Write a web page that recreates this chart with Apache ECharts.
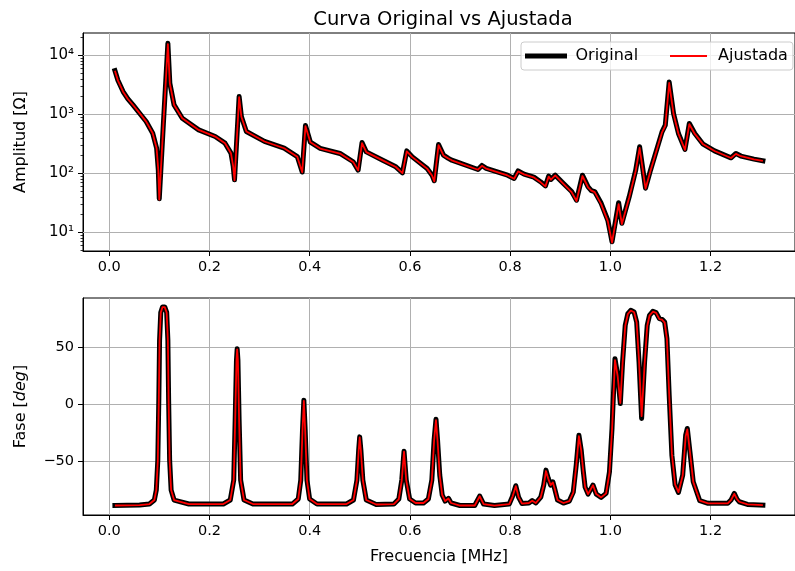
<!DOCTYPE html>
<html>
<head>
<meta charset="utf-8">
<script src="https://cdn.jsdelivr.net/npm/echarts@6/dist/echarts.min.js"></script>
<style>html,body{margin:0;padding:0;background:#fff}#c{width:795px;height:571px}</style>
</head>
<body>
<div id="c"></div>
<script>
// Frequency samples (MHz) for the amplitude curve
const freqAmp = [0.0112,0.0171,0.0275,0.0370,0.0472,0.0604,0.0736,0.0866,0.0944,0.0978,0.0997,0.1082,0.1169,0.1208,0.1293,0.1456,0.1784,0.2113,0.2310,0.2428,0.2473,0.2499,0.2591,0.2636,0.2735,0.3097,0.3490,0.3752,0.3850,0.3915,0.4013,0.4210,0.4604,0.4867,0.4966,0.5044,0.5129,0.5457,0.5719,0.5851,0.5936,0.6048,0.6343,0.6441,0.6486,0.6571,0.6669,0.6768,0.6835,0.7358,0.7437,0.7523,0.7948,0.8080,0.8159,0.8277,0.8473,0.8605,0.8704,0.8769,0.8814,0.8900,0.9064,0.9227,0.9325,0.9443,0.9555,0.9620,0.9687,0.9817,0.9949,1.0033,1.0165,1.0230,1.0376,1.0506,1.0584,1.0702,1.0801,1.1031,1.1096,1.1174,1.1261,1.1359,1.1489,1.1576,1.1686,1.1851,1.2080,1.2408,1.2506,1.2605,1.2866,1.3044];
// Amplitude (Ohm)
const ampOriginal = [5510,3780,2430,1830,1443,1045,755,479,267,113,37,764,15960,3360,1443,859,545,421,324,220,131,77.6,2000,918,512,347,267,192,105,646,337,264,217,157,113,333,231,167,129,102,240,190,121,93,74.7,308,203,179,167,116,136,121,93,82,110,97,86,72,61,90,79,93,67,49,35,93,59,51,49,31,16,6.9,31.7,14.2,40,113,281,56,113,504,654,3530,1032,473,254,699,473,312,240,183,217,196,174,163];
const ampAjustada = [5480,3760,2420,1820,1440,1045,752,478,266,112,36,760,15500,3330,1440,857,544,420,323,219,130,76,1950,910,510,346,266,191,104,630,335,263,216,156,112,325,229,166,128,101,235,188,120,92,73,300,201,178,166,115,134,120,92,81,108,96,85,71,60,88,78,92,66,48,34,90,58,51,48,30,15.5,6.7,30,13.8,39,110,270,55,110,495,640,3400,1010,468,250,680,465,310,239,182,214,195,173,162];

// Frequency samples (MHz) for the phase curve
const freqPhase = [0.0112,0.0604,0.0801,0.0899,0.0938,0.0968,0.0988,0.1003,0.1027,0.1062,0.1106,0.1145,0.1169,0.1184,0.1204,0.1234,0.1293,0.1588,0.2276,0.2414,0.2483,0.2512,0.2538,0.2552,0.2567,0.2591,0.2621,0.2689,0.2866,0.3653,0.3771,0.3821,0.3856,0.3883,0.3909,0.3945,0.3998,0.4145,0.4735,0.4873,0.4942,0.4977,0.4997,0.5021,0.5060,0.5129,0.5326,0.5680,0.5778,0.5837,0.5882,0.5926,0.5994,0.6113,0.6270,0.6368,0.6437,0.6482,0.6520,0.6551,0.6595,0.6644,0.6703,0.6768,0.6821,0.6998,0.7293,0.7392,0.7470,0.7687,0.7982,0.8050,0.8113,0.8168,0.8237,0.8375,0.8440,0.8513,0.8611,0.8670,0.8715,0.8759,0.8808,0.8853,0.8896,0.8946,0.9064,0.9181,0.9260,0.9319,0.9372,0.9418,0.9457,0.9496,0.9555,0.9654,0.9719,0.9817,0.9915,0.9982,1.0033,1.0092,1.0146,1.0199,1.0244,1.0297,1.0349,1.0407,1.0474,1.0525,1.0572,1.0624,1.0683,1.0736,1.0781,1.0848,1.0913,1.0978,1.1031,1.1084,1.1129,1.1174,1.1228,1.1293,1.1359,1.1444,1.1503,1.1536,1.1588,1.1654,1.1784,1.1950,1.2343,1.2408,1.2473,1.2526,1.2571,1.2737,1.3044];
// Phase (deg)
const phaseOriginal = [-88.7,-88.3,-87.4,-83.9,-75.2,-49.0,3.5,55.9,80.4,85.2,85.2,80.4,55.9,3.5,-49.0,-75.2,-83.9,-87.4,-87.4,-83.9,-66.4,-14.0,38.5,48.5,38.5,-14.0,-66.4,-83.9,-87.4,-87.4,-83.0,-66.4,-22.7,3.5,-22.7,-66.4,-83.0,-87.4,-87.4,-83.9,-66.4,-40.2,-28.6,-40.2,-66.4,-83.9,-87.8,-87.4,-83.0,-66.4,-41.1,-66.4,-83.0,-86.5,-86.5,-83.0,-66.4,-31.5,-13.1,-31.5,-62.1,-79.5,-84.8,-82.4,-86.5,-88.7,-88.7,-80.4,-87.4,-88.7,-87.4,-80.4,-71.4,-81.3,-87.0,-86.5,-84.4,-86.5,-81.3,-70.8,-57.7,-64.7,-70.8,-67.9,-75.2,-83.9,-86.5,-84.8,-76.9,-53.3,-27.1,-40.2,-57.7,-72.6,-78.7,-70.8,-78.7,-81.6,-78.1,-59.2,-21.2,39.9,25.3,0.6,37.0,69.1,79.3,82.2,80.7,71.9,37.0,-12.5,37.0,69.1,77.8,81.3,80.2,74.9,74.3,71.9,57.4,7.9,-44.6,-70.8,-77.2,-62.1,-27.1,-21.2,-41.7,-67.9,-84.5,-86.8,-86.8,-83.9,-78.1,-83.0,-85.4,-87.7,-88.3];
const phaseAjustada = [-88.7,-88.3,-87.4,-83.9,-75.2,-49.5,3.0,55.5,80.2,85.0,85.0,80.2,55.5,3.0,-49.5,-75.2,-83.9,-87.4,-87.4,-83.9,-66.6,-14.5,38.0,48.0,38.0,-14.5,-66.6,-83.9,-87.4,-87.4,-83.0,-66.6,-23.0,3.0,-23.0,-66.6,-83.0,-87.4,-87.4,-83.9,-66.6,-40.5,-29.0,-40.5,-66.6,-83.9,-87.8,-87.4,-83.0,-66.6,-41.5,-66.6,-83.0,-86.5,-86.5,-83.0,-66.6,-32.0,-14.0,-32.0,-62.5,-79.5,-84.8,-82.6,-86.5,-88.7,-88.7,-80.6,-87.4,-88.7,-87.4,-80.6,-71.8,-81.3,-87.0,-86.5,-84.5,-86.5,-81.3,-71.0,-58.5,-65.0,-70.8,-68.5,-75.2,-83.9,-86.5,-84.8,-77.5,-54.0,-28.0,-40.5,-58.0,-72.6,-78.7,-71.0,-78.7,-81.6,-78.1,-60.0,-23.0,38.5,24.5,1.0,36.0,68.5,79.0,82.0,80.5,71.5,38.0,-10.5,35.0,68.5,77.5,81.0,80.0,74.5,74.0,71.5,57.0,8.5,-43.5,-70.5,-77.0,-62.5,-28.0,-22.0,-41.5,-68.0,-84.5,-86.8,-86.8,-84.0,-78.5,-83.0,-85.4,-87.7,-88.3];

// Tick values
const xTicks = [0.0, 0.2, 0.4, 0.6, 0.8, 1.0, 1.2];
const ampTicks = [10, 100, 1000, 10000];
const ampMinorTicks = [5,6,7,8,9,20,30,40,50,60,70,80,90,200,300,400,500,600,700,800,900,2000,3000,4000,5000,6000,7000,8000,9000,20000];
const phaseTicks = [-50, 0, 50];

const FONT = 'DejaVu Sans';
const sup = {'0':'\u2070','1':'\u00B9','2':'\u00B2','3':'\u00B3','4':'\u2074','5':'\u2075'};
function pairs(xs, ys) { return xs.map((x, i) => [x, ys[i]]); }

const chart = echarts.init(document.getElementById('c'), null, {renderer: 'canvas'});

function xAxisCfg(gridIndex) {
  return {
    type: 'value', gridIndex: gridIndex, min: -0.0525, max: 1.3685,
    axisLine: {show: true, onZero: false, lineStyle: {color: '#000', width: 1}},
    axisTick: {show: true, length: 5, customValues: xTicks, lineStyle: {color: '#000'}},
    axisLabel: {customValues: xTicks, formatter: v => v.toFixed(1), color: '#000', fontFamily: FONT, fontSize: 14.5, margin: 9},
    splitLine: {show: true, lineStyle: {color: '#b0b0b0', width: 1}}
  };
}

const option = {
  animation: false,
  backgroundColor: '#fff',
  title: {
    text: 'Curva Original vs Ajustada', left: 438, top: 5, textAlign: 'center',
    textStyle: {fontFamily: FONT, fontSize: 19.5, fontWeight: 'normal', color: '#000'}
  },
  legend: {
    left: 521, top: 42, padding: [6, 5, 6, 4], itemGap: 31, itemWidth: 37, itemHeight: 14,
    backgroundColor: 'rgba(255,255,255,0.8)', borderColor: '#cccccc', borderWidth: 1, borderRadius: 3,
    textStyle: {fontFamily: FONT, fontSize: 16, color: '#000', padding: [0, 0, 0, 6]},
    data: [
      {name: 'Original', lineStyle: {width: 5, color: '#000'}, itemStyle: {opacity: 0}},
      {name: 'Ajustada', lineStyle: {width: 1.8, color: '#ff0000'}, itemStyle: {opacity: 0}}
    ]
  },
  grid: [
    {left: 83, top: 33, width: 722, height: 218, show: true, borderColor: '#000', borderWidth: 1, backgroundColor: 'transparent'},
    {left: 83, top: 298, width: 722, height: 217, show: true, borderColor: '#000', borderWidth: 1, backgroundColor: 'transparent'}
  ],
  xAxis: [
    xAxisCfg(0),
    Object.assign(xAxisCfg(1), {
      name: 'Frecuencia [MHz]', nameLocation: 'middle', nameGap: 34,
      nameTextStyle: {fontFamily: FONT, fontSize: 16, color: '#000'}
    })
  ],
  yAxis: [
    {
      type: 'log', logBase: 10, gridIndex: 0, min: 4.82, max: 23900,
      name: 'Amplitud [Ω]', nameLocation: 'middle', nameGap: 54, nameRotate: 90,
      nameTextStyle: {fontFamily: FONT, fontSize: 16, color: '#000'},
      axisLine: {show: true, onZero: false, lineStyle: {color: '#000', width: 1}},
      axisTick: {show: true, length: 5, customValues: ampTicks, lineStyle: {color: '#000'}},
      axisLabel: {customValues: ampTicks, color: '#000', fontFamily: FONT, fontSize: 15, margin: 9,
        formatter: v => '10' + String(Math.round(Math.log10(v))).split('').map(c => sup[c]).join('')},
      splitLine: {show: false}
    },
    {
      type: 'value', gridIndex: 1, min: -97, max: 93,
      name: 'Fase [{i|deg}]', nameLocation: 'middle', nameGap: 54, nameRotate: 90,
      nameTextStyle: {fontFamily: FONT, fontSize: 16, color: '#000', rich: {i: {fontFamily: FONT, fontSize: 16, fontStyle: 'italic', color: '#000'}}},
      axisLine: {show: true, onZero: false, lineStyle: {color: '#000', width: 1}},
      axisTick: {show: true, length: 5, customValues: phaseTicks, lineStyle: {color: '#000'}},
      axisLabel: {customValues: phaseTicks, color: '#000', fontFamily: FONT, fontSize: 14.5, margin: 9,
        formatter: v => (v < 0 ? '\u2212' + Math.abs(v) : String(v))},
      splitLine: {show: true, lineStyle: {color: '#b0b0b0', width: 1}}
    },
    {
      // minor ticks of the log amplitude axis
      type: 'log', logBase: 10, gridIndex: 0, min: 4.82, max: 23900, position: 'left',
      axisLine: {show: false, onZero: false},
      axisTick: {show: true, length: 2.5, customValues: ampMinorTicks, lineStyle: {color: '#000', width: 0.8}},
      axisLabel: {show: false},
      splitLine: {show: false}
    }
  ],
  series: [
    {name: 'Original', type: 'line', xAxisIndex: 0, yAxisIndex: 0, data: pairs(freqAmp, ampOriginal),
      showSymbol: false, symbol: 'none', lineStyle: {color: '#000', width: 5, join: 'round', cap: 'square'}, itemStyle: {color: '#000'}, z: 2,
      markLine: {silent: true, symbol: 'none', z: 1, label: {show: false}, animation: false,
        lineStyle: {color: '#b0b0b0', width: 1, type: 'solid'},
        data: ampTicks.map(v => ({yAxis: v}))}},
    {name: 'Ajustada', type: 'line', xAxisIndex: 0, yAxisIndex: 0, data: pairs(freqAmp, ampAjustada),
      showSymbol: false, symbol: 'none', lineStyle: {color: '#ff0000', width: 1.8, join: 'round'}, itemStyle: {color: '#ff0000'}, z: 3},
    {name: 'Original', type: 'line', xAxisIndex: 1, yAxisIndex: 1, data: pairs(freqPhase, phaseOriginal),
      showSymbol: false, symbol: 'none', lineStyle: {color: '#000', width: 5, join: 'round', cap: 'square'}, itemStyle: {color: '#000'}, z: 2},
    {name: 'Ajustada', type: 'line', xAxisIndex: 1, yAxisIndex: 1, data: pairs(freqPhase, phaseAjustada),
      showSymbol: false, symbol: 'none', lineStyle: {color: '#ff0000', width: 1.8, join: 'round'}, itemStyle: {color: '#ff0000'}, z: 3}
  ]
};
chart.setOption(option);
</script>
</body>
</html>
